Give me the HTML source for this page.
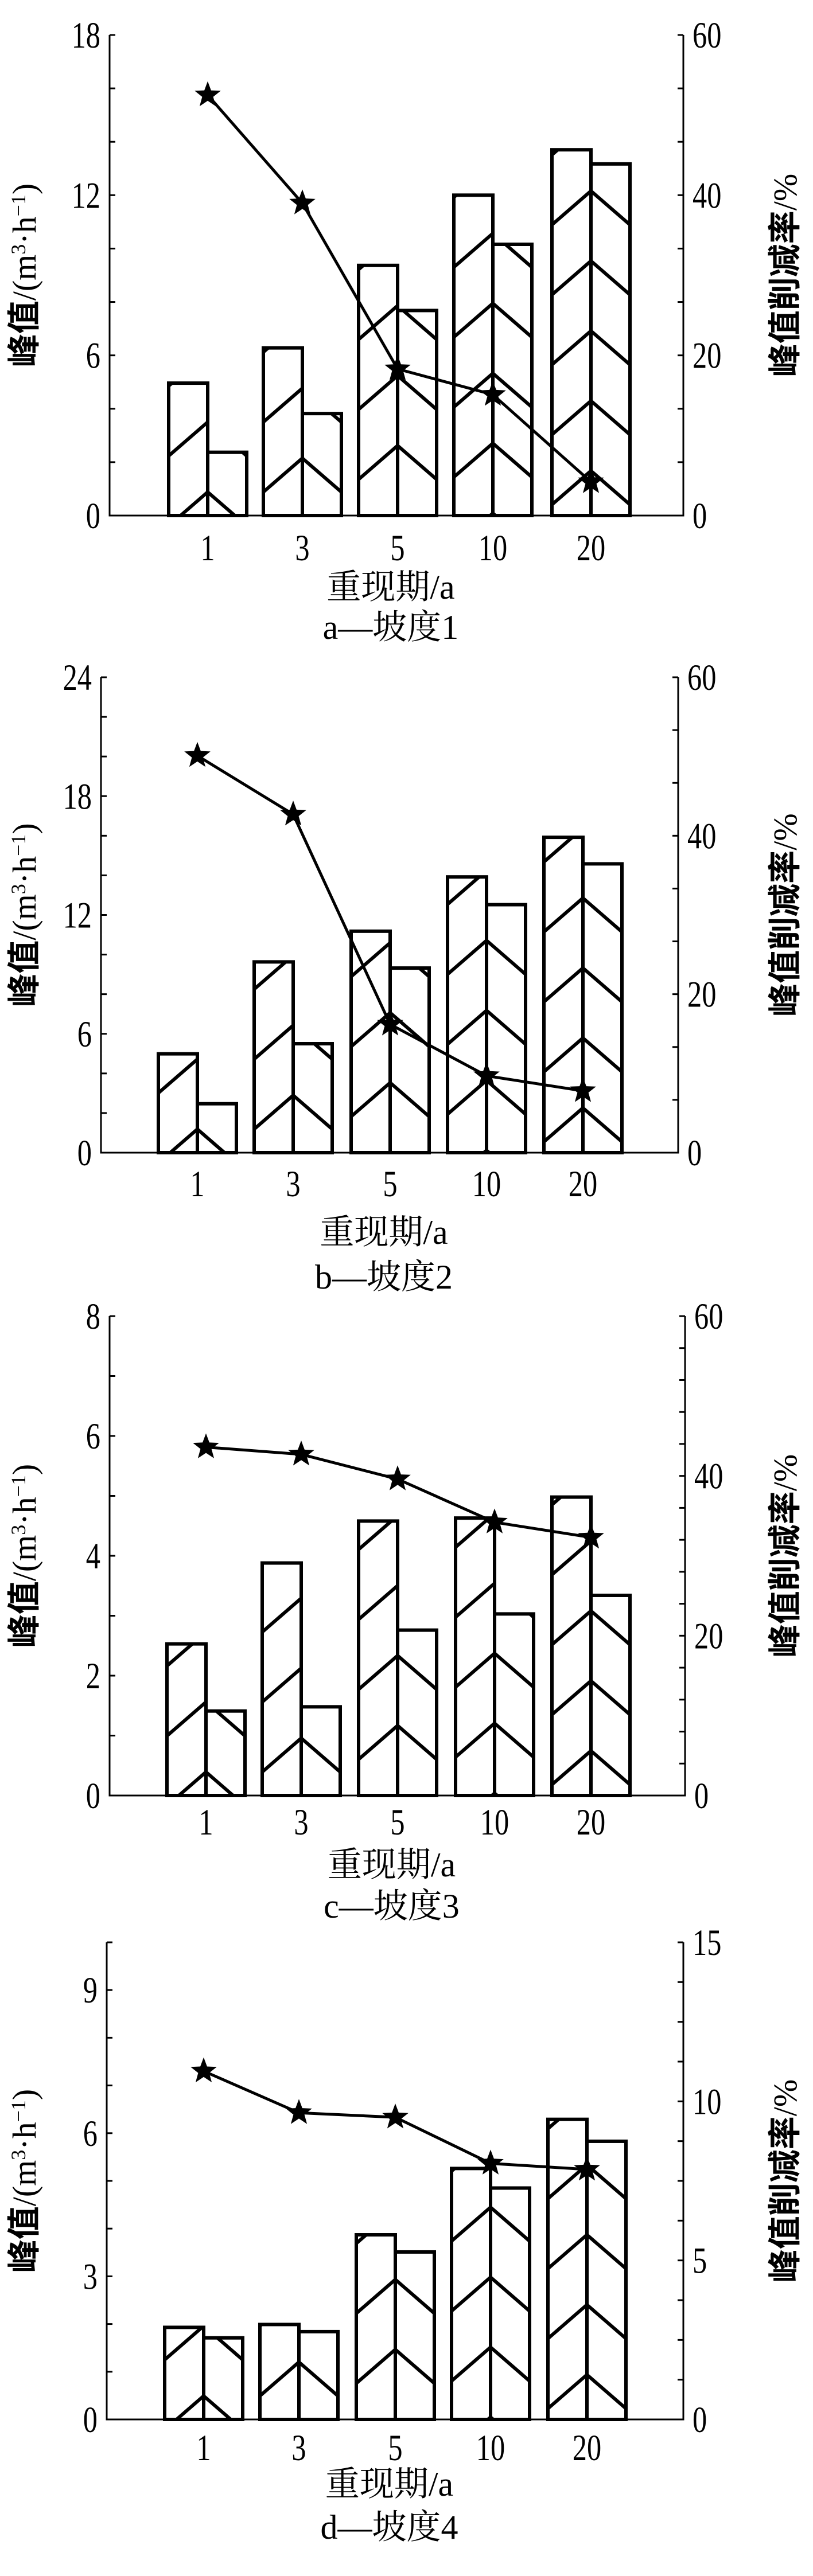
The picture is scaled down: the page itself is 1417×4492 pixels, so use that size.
<!DOCTYPE html>
<html><head><meta charset="utf-8"><style>
html,body{margin:0;padding:0;background:#fff;}
svg{display:block}
</style></head><body>
<svg id="s" xmlns="http://www.w3.org/2000/svg" width="1417" height="4492" viewBox="0 0 1417 4492"></svg>
<script>
const P=[
 {L:191,R:1191,T:61,B:899,lmax:18,lstep:2,llab:[0,6,12,18],rmax:60,rn:9,rlab:[0,20,40,60],
  cx:[362,527,693,859,1030],b1:[4.96,6.28,9.37,12.0,13.7],b2:[2.37,3.82,7.68,10.16,13.17],ln:[52.5,39,18.3,15.1,4.2],
  tl:955,xl:1022,cap:1092,c:"a—坡度1"},
 {L:176,R:1182,T:1181,B:2010,lmax:24,lstep:2,llab:[0,6,12,18,24],rmax:60,rn:9,rlab:[0,20,40,60],
  cx:[344,511,680,848,1016],b1:[4.99,9.63,11.18,13.92,15.92],b2:[2.47,5.5,9.32,12.52,14.58],ln:[50.1,42.7,16.2,9.7,7.8],
  tl:2064,xl:2147,cap:2225,c:"b—坡度2"},
 {L:191,R:1194,T:2295,B:3131,lmax:8,lstep:1,llab:[0,2,4,6,8],rmax:60,rn:15,rlab:[0,20,40,60],
  cx:[359,525,693,862,1030],b1:[2.53,3.88,4.58,4.63,4.98],b2:[1.41,1.48,2.76,3.03,3.34],ln:[43.6,42.7,39.6,34.2,32.3],
  tl:3177,xl:3250,cap:3322,c:"c—坡度3"},
 {L:186,R:1191,T:3387,B:4219,lmax:10,lstep:1,llab:[0,3,6,9],rmax:15,rn:12,rlab:[0,5,10,15],
  cx:[355,521,689,855,1023],b1:[1.93,1.99,3.87,5.26,6.29],b2:[1.71,1.84,3.51,4.85,5.83],ln:[10.95,9.64,9.5,8.05,7.86],
  tl:4268,xl:4330,cap:4405,c:"d—坡度4"}
];
const xl=["1","3","5","10","20"];
const phases=[41,100,0,4,78];
let o="";
const F='font-family="Liberation Serif, Noto Serif CJK SC, serif"';
function star(x,y,r){let p=[];for(let i=0;i<10;i++){const a=-Math.PI/2+i*Math.PI/5,rr=i%2?r*0.42:r;p.push((x+rr*Math.cos(a)).toFixed(1)+","+(y+rr*Math.sin(a)).toFixed(1));}return `<polygon points="${p.join(" ")}" fill="#000"/>`;}
function num(x,y,t,anchor){return `<text transform="translate(${x},${y}) scale(0.9,1.15)" text-anchor="${anchor}" font-size="56" ${F}>${t}</text>`;}
let cid=0;
P.forEach((p,pi)=>{
 const H=p.B-p.T, yl=v=>p.B-v/p.lmax*H, yr=v=>p.B-v/p.rmax*H, w=68, s=122, rise=59;
 p.cx.forEach((c,g)=>{
  [[c-w,p.b1[g],1],[c,p.b2[g],-1]].forEach(([x0,v,dir])=>{
   const top=yl(v);cid++;
   o+=`<clipPath id="c${cid}"><rect x="${x0}" y="${top}" width="${w}" height="${p.B-top}"/></clipPath><g clip-path="url(#c${cid})" stroke="#000" stroke-width="6">`;
   for(let k=-1;k<40;k++){const ya=p.B-phases[g]-k*s; if(ya+rise<top-10)break;
     if(dir===1)o+=`<line x1="${c-w}" y1="${ya+rise}" x2="${c}" y2="${ya}"/>`;
     else o+=`<line x1="${c}" y1="${ya}" x2="${c+w}" y2="${ya+rise}"/>`;}
   o+=`</g><rect x="${x0}" y="${top}" width="${w}" height="${p.B-top}" fill="none" stroke="#000" stroke-width="6"/>`;
  });
 });
 o+=`<path d="M${p.L} ${p.T}V${p.B}H${p.R}V${p.T}" fill="none" stroke="#000" stroke-width="3"/>`;
 for(let v=0;v<=p.lmax+1e-6;v+=p.lstep){const y=yl(v);o+=`<line x1="${p.L}" y1="${y}" x2="${p.L+10}" y2="${y}" stroke="#000" stroke-width="3"/>`;}
 for(let i=0;i<=p.rn;i++){const y=p.B-i*H/p.rn;o+=`<line x1="${p.R-10}" y1="${y}" x2="${p.R}" y2="${y}" stroke="#000" stroke-width="3"/>`;}
 p.llab.forEach(v=>o+=num(p.L-16,yl(v)+22,v,"end"));
 p.rlab.forEach(v=>o+=num(p.R+16,yr(v)+22,v,"start"));
 p.cx.forEach((c,i)=>o+=num(c,p.tl+22,xl[i],"middle"));
 const pts=p.cx.map((c,i)=>[c,yr(p.ln[i])]);
 o+=`<polyline points="${pts.map(q=>q.join(",")).join(" ")}" fill="none" stroke="#000" stroke-width="5"/>`;
 pts.forEach(q=>o+=star(q[0],q[1],24));
 const cx=(p.L+p.R)/2-10, my=(p.T+p.B)/2;
 o+=`<text x="${cx}" y="${p.xl+22}" text-anchor="middle" font-size="60" ${F}>重现期/a</text>`;
 o+=`<text x="${cx}" y="${p.cap+22}" text-anchor="middle" font-size="60" ${F}>${p.c}</text>`;
 o+=`<text transform="translate(62,${my}) rotate(-90)" text-anchor="middle" font-size="58" ${F}><tspan font-weight="bold" font-family="Noto Sans CJK SC, sans-serif">峰值</tspan>/(m<tspan font-size="36" dy="-18">3</tspan><tspan dy="18">·h</tspan><tspan font-size="36" dy="-18">−1</tspan><tspan dy="18">)</tspan></text>`;
 o+=`<text transform="translate(1388,${my}) rotate(-90)" text-anchor="middle" font-size="58" ${F}><tspan font-weight="bold" font-family="Noto Sans CJK SC, sans-serif">峰值削减率</tspan>/%</text>`;
});
document.getElementById("s").innerHTML=o;
</script>
</body></html>
